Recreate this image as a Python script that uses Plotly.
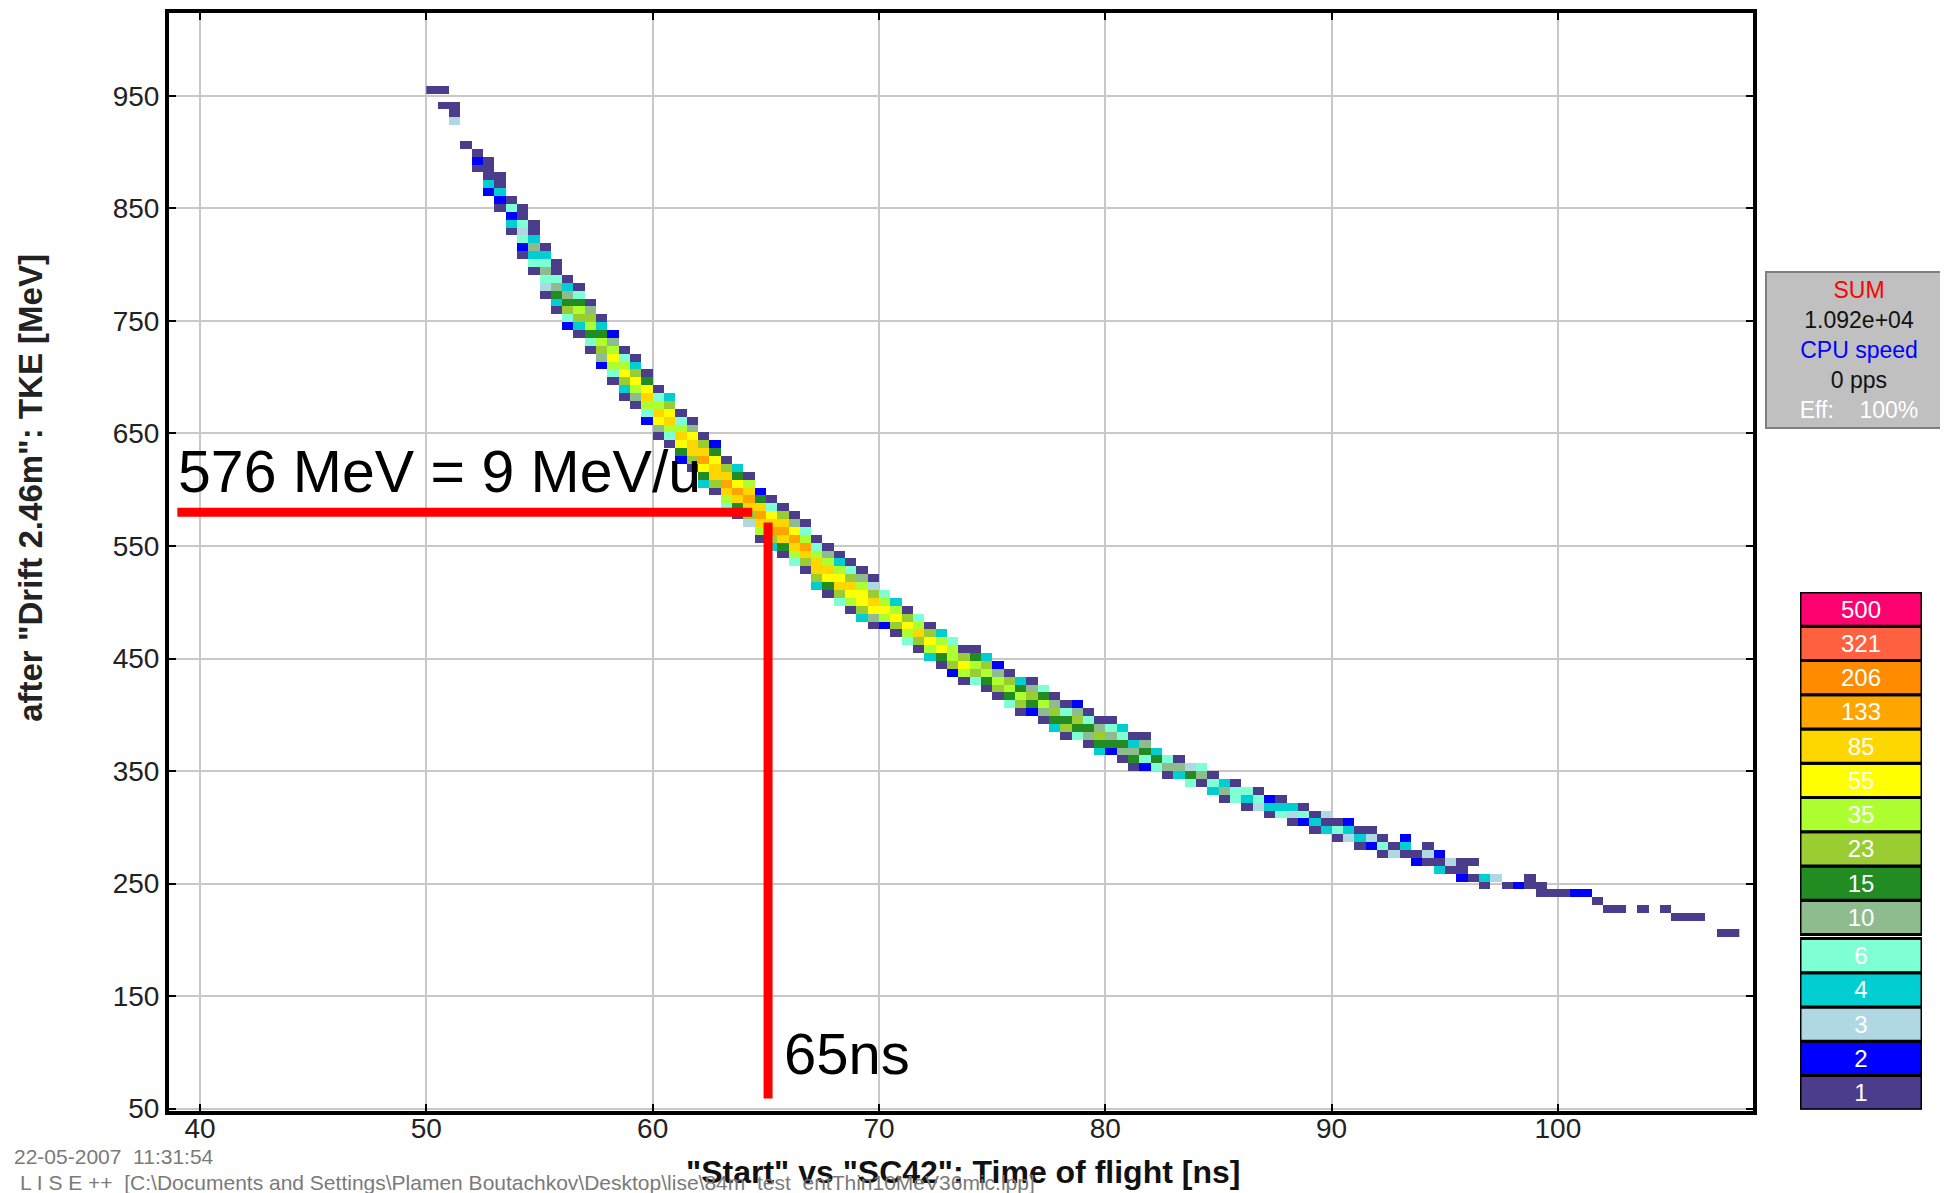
import numpy as np
import plotly.graph_objects as go

# ---------------- data ----------------
# time-of-flight bin centres (ns) of the occupied histogram columns
tof_ns = [50.25, 50.75, 51.25, 51.75, 52.25, 52.75, 53.25, 53.75, 54.25, 54.75,
          55.25, 55.75, 56.25, 56.75, 57.25, 57.75, 58.25, 58.75, 59.25, 59.75,
          60.25, 60.75, 61.25, 61.75, 62.25, 62.75, 63.25, 63.75, 64.25, 64.75,
          65.25, 65.75, 66.25, 66.75, 67.25, 67.75, 68.25, 68.75, 69.25, 69.75,
          70.25, 70.75, 71.25, 71.75, 72.25, 72.75, 73.25, 73.75, 74.25, 74.75,
          75.25, 75.75, 76.25, 76.75, 77.25, 77.75, 78.25, 78.75, 79.25, 79.75,
          80.25, 80.75, 81.25, 81.75, 82.25, 82.75, 83.25, 83.75, 84.25, 84.75,
          85.25, 85.75, 86.25, 86.75, 87.25, 87.75, 88.25, 88.75, 89.25, 89.75,
          90.25, 90.75, 91.25, 91.75, 92.25, 92.75, 93.25, 93.75, 94.25, 94.75,
          95.25, 95.75, 96.25, 96.75, 97.25, 97.75, 98.25, 98.75, 99.25, 99.75,
          100.25, 100.75, 101.25, 101.75, 102.25, 102.75, 103.75, 104.75, 105.25, 105.75,
          106.25, 107.25, 107.75]

# TKE (MeV) of the ridge of the band in each column
ridge_tke = [955, 945, 933, 907, 895, 880, 862, 846, 830, 812,
             797, 783, 769, 756, 742, 730, 717, 705, 693, 682,
             670, 659, 649, 638, 628, 618, 608, 599, 590, 580,
             572, 563, 554, 546, 538, 530, 522, 515, 508, 500,
             493, 486, 479, 473, 466, 460, 454, 447, 441, 436,
             430, 424, 419, 413, 408, 403, 397, 392, 388, 383,
             378, 373, 369, 364, 360, 355, 351, 347, 343, 339,
             335, 331, 327, 323, 320, 316, 312, 309, 305, 302,
             299, 295, 292, 289, 286, 283, 280, 277, 274, 271,
             268, 265, 263, 258, 253, 246, 246, 246, 246, 243,
             240, 239, 239, 233, 230, 230, 226, 226, 220, 220,
             220, 207, 207]

# counts per cell in each column, bottom -> top, centred on the ridge cell
cell_counts = [
    "1", "1 0 1", "3 1 1", "1", "1 2 1", "2 4 1 1 1", "1 2 4 1 1", "1 4 2 6 1",
    "1 2 6 3 6 1 1", "1 6 4 10 4 1 1",
    "1 3 6 10 6 4 1", "1 4 15 10 6 1 1", "2 6 23 15 10 4 1", "1 4 23 35 15 6 1",
    "1 6 15 35 23 10 1", "2 10 23 35 15 4 1", "1 6 35 55 35 10 2", "1 4 23 55 35 6 1",
    "1 10 35 55 23 4 1", "2 6 35 85 55 15 1",
    "1 10 55 85 35 6 1", "1 6 35 85 55 23 4", "2 15 55 85 35 6 1", "1 23 85 85 55 10 1",
    "4 15 55 133 85 23 1", "1 23 85 85 55 15 2", "6 35 85 133 85 23 1", "1 15 85 133 55 15 4",
    "3 23 85 140 85 35 1", "1 35 85 133 85 15 2",
    "4 23 133 85 55 6 1", "1 15 85 140 85 23 1", "6 35 85 133 55 10 1", "1 23 85 133 35 6 1",
    "4 23 85 85 35 6 1", "1 15 55 85 35 10 1", "6 23 85 55 35 4 1", "1 35 55 85 23 6 1",
    "4 23 55 55 35 10 1", "1 10 55 85 23 3 1",
    "2 35 55 35 6", "1 23 55 35 4", "6 35 55 23 1", "1 23 85 35 6", "4 35 55 23 1",
    "1 15 55 35 4", "2 23 35 35 6", "1 35 55 23 1", "6 23 35 15 1", "1 15 35 23 4",
    "1 23 35 10 2", "6 15 35 23 1", "1 23 35 15 4", "2 15 23 10 1", "1 10 35 15 6",
    "4 15 23 10 1", "1 23 15 6 1", "6 15 23 10 2", "1 10 15 6 1", "4 15 23 10 1",
    "2 15 10 6 1", "1 10 15 6 4", "1 15 10 4 1", "2 6 15 10 1", "6 15 4",
    "1 10 6", "4 10 1", "6 15 3", "1 10 6", "4 6 1",
    "1 10 4", "6 6 1", "1 4 6", "3 6 1", "1 4 2", "6 4 1", "1 3 4", "2 6 1", "1 4 1", "4 1 3",
    "1 6 1", "3 4 2", "1 4 1", "2 3 1", "1 6 1", "3 1 0", "1 4 2", "2 1 0", "1 3 1", "4 1 2",
    "1 3 0", "2 1 1", "1 0 1", "1 4 0", "3", "1", "2", "0 1 1", "1 1 0", "1",
    "1", "2", "2", "1", "1", "1", "1", "1", "1", "1",
    "1", "1", "1"]

# colour scale of the count levels (legend on the right)
levels = [1, 2, 3, 4, 6, 10, 15, 23, 35, 55, 85, 133, 206, 321, 500]
level_colors = ["#4B3C8C", "#0000FF", "#B0D8E2", "#00CED1", "#7FFFD4", "#8FBC8F",
                "#228B22", "#9ACD32", "#ADFF2F", "#FFFF00", "#FFD700", "#FFA500",
                "#FF8C00", "#FF6040", "#FF0070"]

x_ticks = [40, 50, 60, 70, 80, 90, 100]
y_ticks = [50, 150, 250, 350, 450, 550, 650, 750, 850, 950]

marker_tke = 580      # MeV, red horizontal marker
marker_tof = 65.1     # ns, red vertical marker

TOF_BIN = 0.5
TKE_BIN = 7.0
TKE_EDGE0 = 49.0

# ---------------- build histogram grid ----------------
x0 = tof_ns[0]
ncol = int(round((tof_ns[-1] - x0) / TOF_BIN)) + 1
nrow = 140
grid = [[None] * ncol for _ in range(nrow)]
for t, e, s in zip(tof_ns, ridge_tke, cell_counts):
    vals = [int(v) for v in s.split()]
    kc = int(np.floor((e - TKE_EDGE0) / TKE_BIN))
    h = len(vals) // 2
    ci = int(round((t - x0) / TOF_BIN))
    for j, v in enumerate(vals):
        if v > 0:
            k = kc + j - h
            grid[k][ci] = int(np.searchsorted(levels, v, side="right") - 1)

n = len(levels)
cscale = []
for i, c in enumerate(level_colors):
    cscale.append([i / n, c])
    cscale.append([(i + 1) / n, c])

FONT = "Liberation Sans, Arial, sans-serif"

# page geometry (page body keeps an 8 px margin; vertical capture scale)
W, H = 1932, 1200
OFF = 8
SY = 0.9877


def px(X):
    return (X - OFF) / W


def py(Y):
    return 1 - (Y / SY - OFF) / H


fig = go.Figure()
fig.add_trace(go.Heatmap(
    z=grid, x0=x0, dx=TOF_BIN, y0=TKE_EDGE0 + TKE_BIN / 2, dy=TKE_BIN,
    colorscale=cscale, zmin=-0.5, zmax=n - 0.5, showscale=False,
    hoverinfo="skip", xaxis="x", yaxis="y"))

# red marker lines
fig.add_trace(go.Scatter(x=[39.0, 64.4], y=[marker_tke, marker_tke], mode="lines",
                         line=dict(color="#FF0000", width=9), hoverinfo="skip"))
fig.add_trace(go.Scatter(x=[marker_tof, marker_tof], y=[571, 59], mode="lines",
                         line=dict(color="#FF0000", width=9), hoverinfo="skip"))

# legend boxes
leg_y = [i + (0.12 if i >= 5 else 0) for i in range(n)]
fig.add_trace(go.Bar(
    x=[1] * n, y=leg_y, base=0, orientation="h", width=1,
    marker=dict(color=level_colors, line=dict(color="black", width=3)),
    text=[str(l) for l in levels], textposition="inside", insidetextanchor="middle",
    textangle=0, textfont=dict(color="white", size=24, family=FONT),
    xaxis="x2", yaxis="y2", hoverinfo="skip"))

fig.update_layout(
    width=W, height=H, margin=dict(l=0, r=0, t=0, b=0),
    paper_bgcolor="white", plot_bgcolor="white", showlegend=False,
    xaxis=dict(domain=[px(169), px(1753)], range=[38.63, 108.62], tickvals=x_ticks,
               showgrid=True, gridcolor="#C8C8C8", gridwidth=2, zeroline=False,
               showline=True, linecolor="black", linewidth=4, mirror="ticks",
               ticks="inside", ticklen=7, tickwidth=2, tickcolor="black",
               ticklabelstandoff=-11,
               tickfont=dict(family=FONT, size=28, color="#222")),
    yaxis=dict(domain=[py(1109.4), py(12.4)], range=[47.8, 1024.1], tickvals=y_ticks,
               showgrid=True, gridcolor="#C8C8C8", gridwidth=2, zeroline=False,
               showline=True, linecolor="black", linewidth=4, mirror="ticks",
               ticks="inside", ticklen=7, tickwidth=2, tickcolor="black",
               tickfont=dict(family=FONT, size=28, color="#222")),
    xaxis2=dict(domain=[px(1800), px(1922)], range=[0, 1], visible=False, fixedrange=True),
    yaxis2=dict(domain=[py(1108), py(591)], range=[-0.5, n - 0.38],
                visible=False, fixedrange=True),
)

ann = []
ann.append(dict(x=38.95, y=616, xref="x", yref="y", xanchor="left", yanchor="middle",
                text="576 MeV = 9 MeV/u", showarrow=False,
                font=dict(family=FONT, size=59, color="black")))
ann.append(dict(x=65.7, y=99, xref="x", yref="y", xanchor="left", yanchor="middle",
                text="65ns", showarrow=False,
                font=dict(family=FONT, size=58, color="black")))
ann.append(dict(x=px(31), y=py(487), xref="paper", yref="paper", textangle=-90,
                xanchor="center", yanchor="middle", showarrow=False,
                text='after "Drift 2.46m": TKE [MeV]',
                font=dict(family=FONT, size=33, color="#222", weight="bold")))
ann.append(dict(x=px(963), y=py(1170), xref="paper", yref="paper",
                xanchor="center", yanchor="middle", showarrow=False,
                text='"Start" vs "SC42": Time of flight [ns]',
                font=dict(family=FONT, size=32, color="#111", weight="bold")))
ann.append(dict(x=px(12), y=py(1155), xref="paper", yref="paper",
                xanchor="left", yanchor="middle", showarrow=False,
                text="22-05-2007&nbsp;&nbsp;11:31:54",
                font=dict(family=FONT, size=21, color="#7A7A7A")))
ann.append(dict(x=px(18), y=py(1181), xref="paper", yref="paper",
                xanchor="left", yanchor="middle", showarrow=False,
                text="L I S E ++&nbsp;&nbsp;[C:\\Documents and Settings\\Plamen Boutachkov\\Desktop\\lise\\84m_test_entThin10MeV36mic.lpp]",
                font=dict(family=FONT, size=21, color="#7A7A7A")))
ann.append(dict(x=px(1765), y=py(271), xref="paper", yref="paper",
                xanchor="left", yanchor="top", showarrow=False, align="center",
                width=182, height=152, bgcolor="#C0C0C0", bordercolor="#7F7F7F",
                borderwidth=2, borderpad=1,
                text=("<span style='color:#FF0000'>SUM</span><br>1.092e+04<br>"
                      "<span style='color:#0000FF'>CPU speed</span><br>0 pps<br>"
                      "<span style='color:#FFFFFF'>Eff:&nbsp;&nbsp;&nbsp;&nbsp;100%</span>"),
                font=dict(family=FONT, size=23, color="#111")))
fig.update_layout(annotations=ann)

fig.write_html("out.html")
